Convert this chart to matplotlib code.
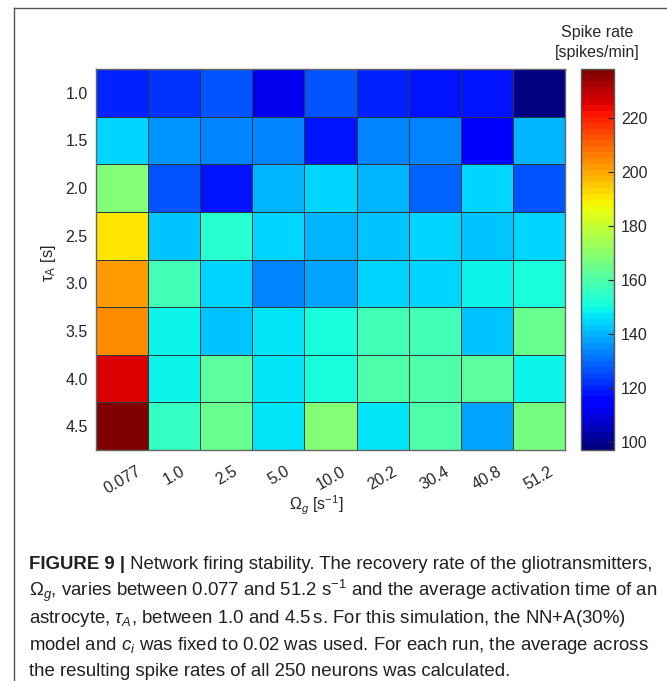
import matplotlib
matplotlib.use("Agg")
import matplotlib.pyplot as plt
import numpy as np
from matplotlib.lines import Line2D
from matplotlib.text import Annotation

# ---------------- data ----------------
omega_labels = ["0.077", "1.0", "2.5", "5.0", "10.0", "20.2", "30.4", "40.8", "51.2"]
tau_labels = ["1.0", "1.5", "2.0", "2.5", "3.0", "3.5", "4.0", "4.5"]
spike_rate = [
    [121, 122, 126, 112, 126, 120, 119, 119, 97],
    [144, 135, 133, 133, 119, 134, 133, 113, 140],
    [169, 126, 119, 140, 144, 140, 128, 145, 126],
    [190, 143, 153, 144, 140, 142, 145, 143, 145],
    [201, 158, 144, 133, 137, 144, 144, 149, 152],
    [204, 149, 142, 146, 152, 157, 157, 142, 164],
    [225, 149, 163, 146, 150, 160, 160, 161, 148],
    [238, 156, 165, 146, 168, 147, 159, 138, 166],
]
cbar_ticks = [100, 120, 140, 160, 180, 200, 220]

# ---------------- fonts ----------------
plt.rcParams['font.family'] = ['Liberation Sans', 'DejaVu Sans']
plt.rcParams['mathtext.fontset'] = 'custom'
plt.rcParams['mathtext.rm'] = 'Liberation Sans'
plt.rcParams['mathtext.it'] = 'Liberation Sans:italic'
plt.rcParams['mathtext.bf'] = 'Liberation Sans:bold'

cap_size = 13.4
txt_col = '#262626'

W, H = 667, 681
fig = plt.figure(figsize=(W / 100, H / 100), dpi=100)

def fx(px):
    return px / W

def fy(py):
    return 1 - py / H

# outer frame (left and top lines)
fig.add_artist(Line2D([fx(14), fx(14)], [fy(8), 0], color='#555555', lw=1.0))
fig.add_artist(Line2D([fx(14), 1], [fy(8), fy(8)], color='#555555', lw=1.0))

# ---------------- heatmap ----------------
ax_l, ax_r, ax_t, ax_b = 96, 565, 69, 450
ax = fig.add_axes([fx(ax_l), fy(ax_b), fx(ax_r - ax_l), (ax_b - ax_t) / H])
data = np.array(spike_rate, dtype=float)
cmap = plt.get_cmap('jet', 64)
vmin, vmax = data.min(), data.max()
mesh = ax.pcolormesh(np.arange(len(omega_labels) + 1), np.arange(len(tau_labels) + 1), data,
                     cmap=cmap, vmin=vmin, vmax=vmax, edgecolors='#2a3a3c', linewidth=0.7)
ax.set_xlim(0, len(omega_labels))
ax.set_ylim(len(tau_labels), 0)
ax.set_xticks(np.arange(len(omega_labels)) + 0.5)
ax.set_xticklabels(omega_labels, rotation=30, ha='center', va='top', fontsize=11.5, color=txt_col)
ax.set_yticks(np.arange(len(tau_labels)) + 0.5)
ax.set_yticklabels(tau_labels, fontsize=11.5, color=txt_col)
ax.tick_params(axis='x', length=0, pad=10)
ax.tick_params(axis='y', length=0, pad=6)
for s in ax.spines.values():
    s.set_color('#666666')
    s.set_linewidth(1.0)
ax.set_xlabel(r'$\Omega_{g}$ [s$^{\mathregular{-1}}$]', fontsize=11.5, color=txt_col)
ax.xaxis.set_label_coords(0.47, -0.115)
ax.set_ylabel(r'$\mathregular{\tau_{A}}$ [s]', fontsize=12, color=txt_col)
ax.yaxis.set_label_coords(-0.08, 0.49)

# ---------------- colorbar ----------------
cax = fig.add_axes([fx(581), fy(ax_b), fx(614 - 581), (ax_b - ax_t) / H])
cb = fig.colorbar(mesh, cax=cax)
cb.set_ticks(cbar_ticks)
cb.ax.tick_params(direction='in', length=4, width=0.8, labelsize=11.5, colors=txt_col, pad=5)
cb.outline.set_edgecolor('#555555')
cb.outline.set_linewidth(1.0)
fig.text(fx(597), fy(33), 'Spike rate', ha='center', va='center', fontsize=11.5, color=txt_col)
fig.text(fx(597), fy(52), '[spikes/min]', ha='center', va='center', fontsize=11.5, color=txt_col)

# ---------------- caption ----------------
cap_col = '#231f20'
lines = [
    r'$\Omega_g$, varies between 0.077 and 51.2 s$^{\mathregular{-1}}$ and the average activation time of an',
    r'astrocyte, $\tau_A$, between 1.0 and 4.5$\,$s. For this simulation, the NN+A(30%)',
    r'model and $c_i$ was fixed to 0.02 was used. For each run, the average across',
    'the resulting spike rates of all 250 neurons was calculated.',
]
x0 = fx(29)
base = [569, 596, 623, 650, 676]
t_bold = fig.text(x0, fy(base[0]), 'FIGURE 9 |', ha='left', va='baseline', fontsize=cap_size,
                  fontweight='bold', color=cap_col)
fig.add_artist(Annotation(' Network firing stability. The recovery rate of the gliotransmitters,',
                          xy=(1, 0), xycoords=t_bold, ha='left', va='bottom',
                          fontsize=cap_size, color=cap_col))
for i, ln in enumerate(lines):
    fig.text(x0, fy(base[i + 1]), ln, ha='left', va='baseline', fontsize=cap_size, color=cap_col)

fig.savefig('out.png', dpi=100)
